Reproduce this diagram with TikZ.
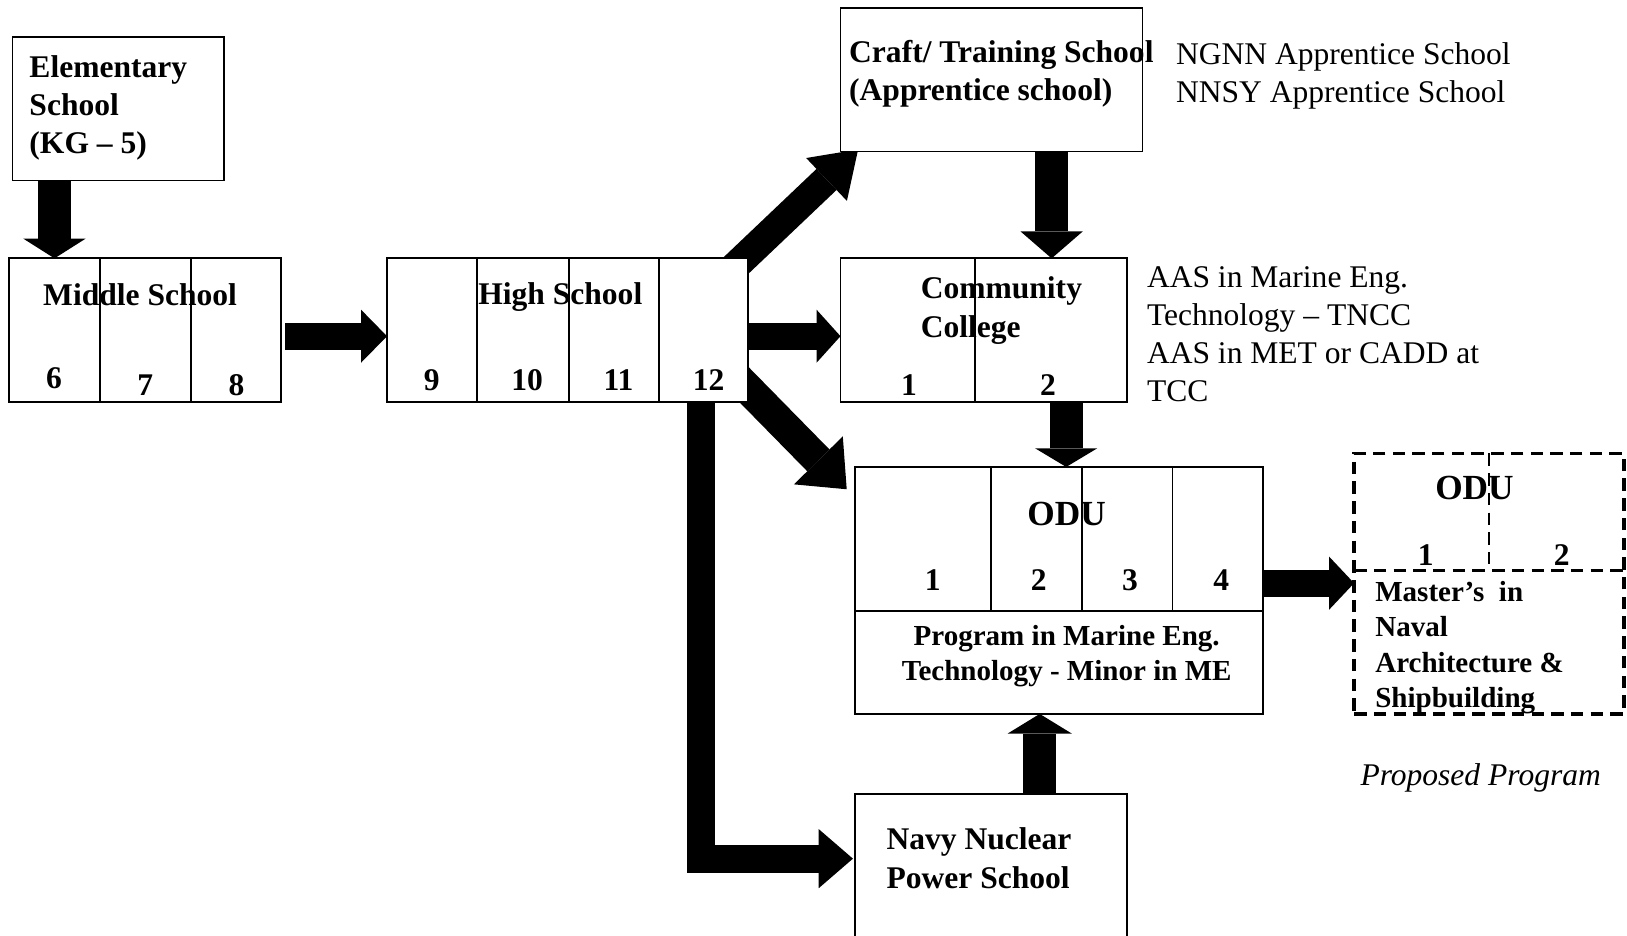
\documentclass[tikz,border=0pt]{standalone}
\usepackage{fontspec}
\setmainfont{Liberation Serif}
\usetikzlibrary{arrows.meta,calc,backgrounds}
\begin{document}
\begin{tikzpicture}[x=0.5pt,y=-0.5pt,
  box/.style={draw,line width=0.9pt,fill=white,inner sep=0pt,outer sep=0pt,anchor=north west},
  dbox/.style={draw,line width=1.8pt,dash pattern=on 6pt off 3.5pt,fill=white,inner sep=0pt,outer sep=0pt,anchor=north west},
  div/.style={line width=0.9pt},
  ddiv/.style={line width=1.2pt,dash pattern=on 6pt off 3.5pt},
  lbl/.style={inner sep=0pt,font=\fontsize{15.2}{18.5}\selectfont\bfseries},
  lblL/.style={lbl,align=left,anchor=west},
  txt/.style={inner sep=0pt,font=\fontsize{15.2}{18.3}\selectfont,align=left,anchor=west},
  smallb/.style={inner sep=0pt,font=\fontsize{14}{17}\selectfont\bfseries},
  bigb/.style={inner sep=0pt,font=\fontsize{17}{20}\selectfont\bfseries},
  harr/.style={line width=13pt,-{Triangle[length=#1,width=25.5pt,line width=0pt]}},
  harr/.default=12pt,
  varr/.style={line width=16pt,-{Triangle[length=#1,width=30pt,line width=0pt]}},
  varr/.default=9.5pt,
]
\useasboundingbox (0,0) rectangle (1568,902);

% ---------- boxes ----------
\node[box,minimum width=102pt,minimum height=69pt] (elem) at (12,36) {};
\node[box,minimum width=131pt,minimum height=69pt] (mid) at (9,249) {};
\node[box,minimum width=174pt,minimum height=69pt] (high) at (373,249) {};
\node[box,minimum width=145.5pt,minimum height=69pt] (craft) at (810,8) {};
\node[box,minimum width=138pt,minimum height=69pt] (cc) at (810,249) {};
\node[box,minimum width=196.5pt,minimum height=119pt] (odu) at (824,450) {};
\node[dbox,minimum width=130pt,minimum height=125.5pt] (prop) at (1305,437) {};
\node[box,minimum width=131pt,minimum height=72pt] (navy) at (824,765) {};

% ---------- dividers ----------
\draw[div] (mid.north west) ++(87,0) -- ++(0,138);
\draw[div] (mid.north west) ++(175,0) -- ++(0,138);
\draw[div] (high.north west) ++(87,0) -- ++(0,138);
\draw[div] (high.north west) ++(175,0) -- ++(0,138);
\draw[div] (high.north west) ++(262,0) -- ++(0,138);
\draw[div] (cc.north west) ++(130,0) -- ++(0,138);
\draw[div] (odu.north west) ++(131,0) -- ++(0,139);
\draw[div] (odu.north west) ++(219,0) -- ++(0,139);
\draw[div] (odu.north west) ++(306,0) -- ++(0,139);
\draw[div] (odu.north west) ++(0,139) -- ++(393,0);
\draw[ddiv] (prop.north west) ++(130,0) -- ++(0,113);
\draw[ddiv] (prop.north west) ++(0,113) -- ++(260,0);

% ---------- texts ----------
\node[lblL] (elemT) at (28,104) {Elementary\\School\\(KG – 5)};
\node[lbl] (midT) at (135,284) {Middle School};
\node[lbl] (g6) at (52,364) {6};
\node[lbl] (g7) at (140,371) {7};
\node[lbl] (g8) at (228,371) {8};
\node[lbl] (highT) at (540,286) {High School};
\node[lbl] (g9) at (416,366) {9};
\node[lbl] (g10) at (508,366) {10};
\node[lbl] (g11) at (596,366) {11};
\node[lbl] (g12) at (683,366) {12};
\node[lblL] (craftT) at (818,71) {Craft/ Training School\\(Apprentice school)};
\node[txt] (ngnnT) at (1133,73) {NGNN Apprentice School\\NNSY Apprentice School};
\node[lblL,font=\fontsize{15.2}{19}\selectfont\bfseries] (ccT) at (887,299) {Community\\College};
\node[lbl] (c1) at (876,371) {1};
\node[lbl] (c2) at (1010,371) {2};
\node[txt] (aasT) at (1105,322) {AAS in Marine Eng.\\Technology – TNCC\\AAS in MET or CADD at\\TCC};
\node[bigb] (oduT) at (1028,495) {ODU};
\node[lbl] (u1) at (899,559) {1};
\node[lbl] (u2) at (1001,559) {2};
\node[lbl] (u3) at (1089,559) {3};
\node[lbl] (u4) at (1177,559) {4};
\node[smallb,align=center] (progT) at (1028,632) {Program in Marine Eng.\\Technology - Minor in ME};
\node[bigb] (propODU) at (1421,470) {ODU};
\node[lbl] (p1) at (1374,535) {1};
\node[lbl] (p2) at (1505,535) {2};
\node[smallb,align=left,anchor=west] (mastT) at (1325,624) {Master’s\ \ in\\Naval\\Architecture \&\\Shipbuilding};
\node[inner sep=0pt,font=\fontsize{15.2}{18.5}\selectfont\itshape] (propT) at (1427,750) {Proposed Program};
\node[lblL] (navyT) at (854,827) {Navy Nuclear\\Power School};

% ---------- arrows (under the boxes) ----------
\begin{scope}[on background layer]
  \coordinate (e1) at ($(elem.south west)+(40.5,0)$);
  \draw[varr=9.5pt] (e1) -- (e1 |- mid.north);

  \coordinate (m1) at ($(mid.east)+(4,6)$);
  \draw[harr=12.5pt] (m1) -- (m1 -| high.west);

  \coordinate (h2) at ($(high.east)+(0,6)$);
  \draw[harr=11.5pt] (h2) -- (h2 -| cc.west);

  \coordinate (hs1) at ($(high.north east)+(-21,15.7)$);
  \coordinate (ct) at ($(craft.south west)+(17,-2)$);
  \draw[line width=14pt,-{Triangle[length=21pt,width=28.5pt,line width=0pt]}] (hs1) -- (ct);

  \coordinate (hs2) at ($(high.north east)+(-16,109.4)$);
  \coordinate (ot) at ($(odu.north west)+(-8,21.5)$);
  \draw[line width=15pt,-{Triangle[length=19.5pt,width=33pt,line width=0pt]}] (hs2) -- (ot);

  \coordinate (cr1) at ($(craft.south west)+(203.5,0)$);
  \draw[varr=13pt] (cr1) -- (cr1 |- cc.north);

  \coordinate (cc1) at ($(cc.south west)+(217.5,0)$);
  \draw[varr=9pt] (cc1) -- (cc1 |- odu.north);

  \coordinate (h3) at ($(high.south west)+(303,0)$);
  \coordinate (nv1) at ($(navy.north west)+(-2,62.5)$);
  \draw[line width=13.5pt,line join=miter,-{Triangle[length=16.5pt,width=28.5pt,line width=0pt]}] (h3) -- (h3 |- nv1) -- (nv1);

  \coordinate (nv2) at ($(navy.north west)+(178,0)$);
  \draw[line width=16pt,-{Triangle[length=9.5pt,width=31pt,line width=0pt]}] (nv2) -- (nv2 |- odu.south);

  \coordinate (o1) at ($(odu.north east)+(0,112)$);
  \draw[harr=12pt] (o1) -- (o1 -| prop.west);
\end{scope}
\end{tikzpicture}
\end{document}
